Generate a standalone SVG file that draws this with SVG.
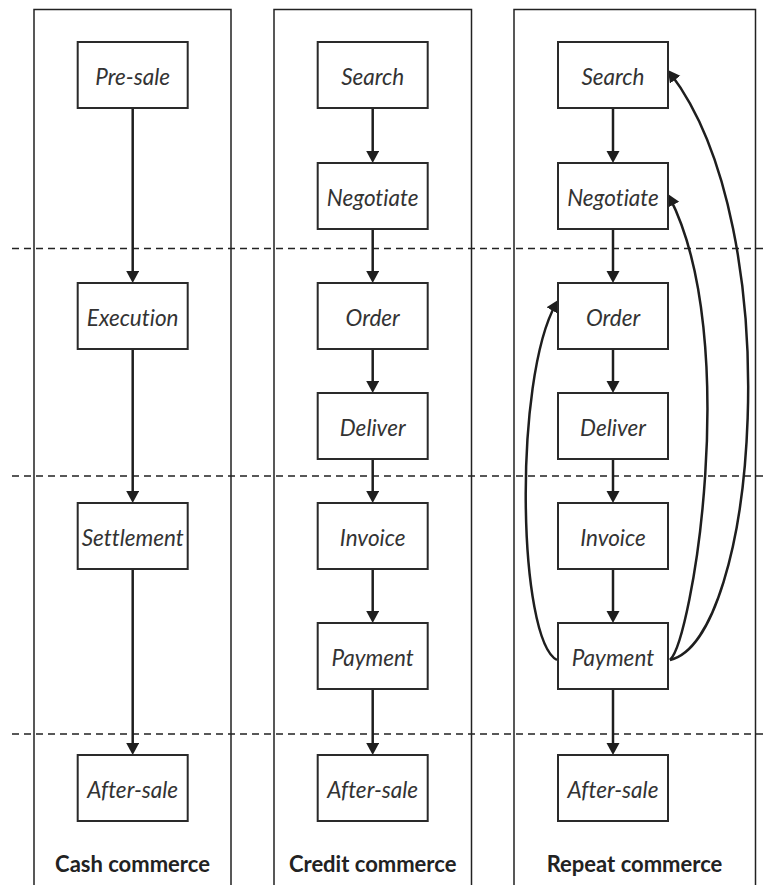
<svg xmlns="http://www.w3.org/2000/svg" width="772" height="885" viewBox="0 0 772 885">
  <defs>
    <style>
      .frame { fill: none; stroke: #222; stroke-width: 1.5; }
      .sep { fill: none; stroke: #222; stroke-width: 1.3; stroke-dasharray: 7 5; }
      .box { fill: #fff; stroke: #2a2a2a; stroke-width: 2; }
      .lbl { font-family: Lato, "Liberation Sans", sans-serif; font-style: italic; font-size: 22.5px; fill: #333; text-anchor: middle; font-variant-ligatures: none; }
      .title { font-family: Lato, "Liberation Sans", sans-serif; font-weight: 700; font-size: 22px; fill: #222; text-anchor: middle; }
      .arr { fill: none; stroke: #1e1e1e; stroke-width: 2.5; marker-end: url(#head); }
    </style>
    <marker id="head" markerUnits="userSpaceOnUse" markerWidth="14" markerHeight="14" refX="8" refY="6.5" orient="auto">
      <path d="M0,0 L12,6.5 L0,13 z" fill="#1e1e1e"/>
    </marker>
  </defs>

  <!-- column frames, open at the bottom -->
  <g id="frames">
    <path class="frame" d="M34,885 V9.5 H231 V885"/>
    <path class="frame" d="M274,885 V9.5 H471.5 V885"/>
    <path class="frame" d="M514,885 V9.5 H755.5 V885"/>
  </g>

  <!-- phase separators -->
  <g id="separators">
    <line class="sep" x1="12" y1="248.5" x2="766" y2="248.5"/>
    <line class="sep" x1="12" y1="476" x2="766" y2="476"/>
    <line class="sep" x1="12" y1="734" x2="766" y2="734"/>
  </g>

  <!-- connectors -->
  <g id="connectors">
    <!-- cash commerce -->
    <line class="arr" x1="132.7" y1="108" x2="132.7" y2="279"/>
    <line class="arr" x1="132.7" y1="349" x2="132.7" y2="499"/>
    <line class="arr" x1="132.7" y1="569" x2="132.7" y2="751"/>
    <!-- credit commerce -->
    <line class="arr" x1="372.7" y1="108" x2="372.7" y2="159"/>
    <line class="arr" x1="372.7" y1="229" x2="372.7" y2="279"/>
    <line class="arr" x1="372.7" y1="349" x2="372.7" y2="389"/>
    <line class="arr" x1="372.7" y1="459" x2="372.7" y2="499"/>
    <line class="arr" x1="372.7" y1="569" x2="372.7" y2="619"/>
    <line class="arr" x1="372.7" y1="689" x2="372.7" y2="751"/>
    <!-- repeat commerce -->
    <line class="arr" x1="613" y1="108" x2="613" y2="159"/>
    <line class="arr" x1="613" y1="229" x2="613" y2="279"/>
    <line class="arr" x1="613" y1="349" x2="613" y2="389"/>
    <line class="arr" x1="613" y1="459" x2="613" y2="499"/>
    <line class="arr" x1="613" y1="569" x2="613" y2="619"/>
    <line class="arr" x1="613" y1="689" x2="613" y2="751"/>
    <!-- loops back from payment -->
    <path class="arr" d="M557,660 C518,640 513,380 556.1,303.5"/>
    <path class="arr" d="M670,660 C692,640 742,340 669.8,197.6"/>
    <path class="arr" d="M670,660 C757,640 790,230 670.3,73.3"/>
  </g>

  <!-- cash commerce nodes -->
  <g id="cash-presale"><rect class="box" x="77.7" y="42" width="110" height="66"/><text class="lbl" x="132.7" y="85">Pre-sale</text></g>
  <g id="cash-execution"><rect class="box" x="77.7" y="283" width="110" height="66"/><text class="lbl" x="132.7" y="326">Execution</text></g>
  <g id="cash-settlement"><rect class="box" x="77.7" y="503" width="110" height="66"/><text class="lbl" x="132.7" y="546">Settlement</text></g>
  <g id="cash-aftersale"><rect class="box" x="77.7" y="755" width="110" height="66"/><text class="lbl" x="132.7" y="798">After-sale</text></g>

  <!-- credit commerce nodes -->
  <g id="credit-search"><rect class="box" x="317.7" y="42" width="110" height="66"/><text class="lbl" x="372.7" y="85">Search</text></g>
  <g id="credit-negotiate"><rect class="box" x="317.7" y="163" width="110" height="66"/><text class="lbl" x="372.7" y="206">Negotiate</text></g>
  <g id="credit-order"><rect class="box" x="317.7" y="283" width="110" height="66"/><text class="lbl" x="372.7" y="326">Order</text></g>
  <g id="credit-deliver"><rect class="box" x="317.7" y="393" width="110" height="66"/><text class="lbl" x="372.7" y="436">Deliver</text></g>
  <g id="credit-invoice"><rect class="box" x="317.7" y="503" width="110" height="66"/><text class="lbl" x="372.7" y="546">Invoice</text></g>
  <g id="credit-payment"><rect class="box" x="317.7" y="623" width="110" height="66"/><text class="lbl" x="372.7" y="666">Payment</text></g>
  <g id="credit-aftersale"><rect class="box" x="317.7" y="755" width="110" height="66"/><text class="lbl" x="372.7" y="798">After-sale</text></g>

  <!-- repeat commerce nodes -->
  <g id="repeat-search"><rect class="box" x="558" y="42" width="110" height="66"/><text class="lbl" x="613" y="85">Search</text></g>
  <g id="repeat-negotiate"><rect class="box" x="558" y="163" width="110" height="66"/><text class="lbl" x="613" y="206">Negotiate</text></g>
  <g id="repeat-order"><rect class="box" x="558" y="283" width="110" height="66"/><text class="lbl" x="613" y="326">Order</text></g>
  <g id="repeat-deliver"><rect class="box" x="558" y="393" width="110" height="66"/><text class="lbl" x="613" y="436">Deliver</text></g>
  <g id="repeat-invoice"><rect class="box" x="558" y="503" width="110" height="66"/><text class="lbl" x="613" y="546">Invoice</text></g>
  <g id="repeat-payment"><rect class="box" x="558" y="623" width="110" height="66"/><text class="lbl" x="613" y="666">Payment</text></g>
  <g id="repeat-aftersale"><rect class="box" x="558" y="755" width="110" height="66"/><text class="lbl" x="613" y="798">After-sale</text></g>

  <!-- column titles -->
  <g id="titles">
    <text class="title" x="132.5" y="872">Cash commerce</text>
    <text class="title" x="372.7" y="872">Credit commerce</text>
    <text class="title" x="634.5" y="872">Repeat commerce</text>
  </g>
</svg>
